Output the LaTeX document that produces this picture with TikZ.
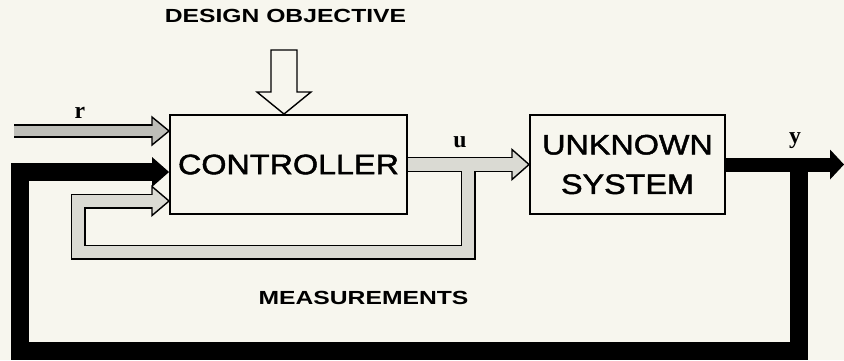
\documentclass[tikz,border=0pt]{standalone}
\usepackage{fontspec}
\newfontfamily\boxfont[FakeStretch=1.15, FakeBold=1.6]{Liberation Sans}
\newfontfamily\tagfont[FakeStretch=1.3]{Liberation Sans Bold}
\newfontfamily\sigfont{Liberation Serif}
\usetikzlibrary{calc}

\definecolor{paper}{RGB}{247,246,238}
\definecolor{refgray}{RGB}{190,190,184}
\definecolor{measgray}{RGB}{218,218,211}

\tikzset{
  block/.style={draw, line width=1.1pt, minimum height=1.98cm, align=center, inner sep=0pt, node font=\fontsize{16}{22.5}\boxfont},
  caption/.style={node font=\fontsize{10.8}{13}\tagfont},
  signal/.style={anchor=base, node font=\fontsize{13.5}{15}\sigfont\bfseries},
  pipeedge/.style={draw=black, line width=0.3cm, line join=miter},
  pipefill/.style={line width=0.3cm-1.6pt, line join=miter},
  fbpipe/.style={draw=black, line width=0.35cm, line join=miter},
}

\begin{document}
\begin{tikzpicture}[x=0.02cm, y=-0.02cm]

    \fill[paper] (0,0) rectangle (844,360);
    \useasboundingbox (0,0) rectangle (844,360);

    \node[block, minimum width=4.74cm] (ctrl) at (288.5,164.5) {CONTROLLER};
    \node[block, minimum width=3.9cm] (plant) at (627.5,164.5) {UNKNOWN\\SYSTEM};

    \node[caption] (goal) at (285.5,16) {DESIGN OBJECTIVE};
    \node[caption] (meas) at (363.5,298) {MEASUREMENTS};

    \node[signal] (rlab) at (80,118) {r};
    \node[signal] (ulab) at (460,147) {u};
    \node[signal] (ylab) at (795,143) {y};

    % design objective (hollow arrow)
    \filldraw[fill=paper, line width=0.8pt] (271,50) -- (297,50) -- (297,92) -- (311,92)
        -- ($(ctrl.north)+(-4.5,0)$) -- (257,92) -- (271,92) -- cycle;

    % output y and feedback
    \coordinate (yhead) at (830,164.5);
    \coordinate (ysplit) at (799,164.5);
    \coordinate (fbright) at (799,351);
    \coordinate (fbleft) at (20,351);
    \coordinate (fbtop) at (20,172);
    \coordinate (fbhead) at (152,172);

    \draw[line width=0.28cm] (plant.east) -- (yhead);
    \fill ($(yhead)+(0,-15)$) -- ($(yhead)+(14,0)$) -- ($(yhead)+(0,15)$) -- cycle;
    \draw[fbpipe] (ysplit) -- (fbright) -- (fbleft) -- (fbtop) -- (fbhead);
    \fill ($(fbhead)+(0,-15)$) -- (ctrl.west |- fbhead) -- ($(fbhead)+(0,15)$) -- cycle;

    % reference r
    \coordinate (rin) at (14,131);
    \coordinate (rhead) at (152,131);
    \draw[pipeedge, line width=0.27cm] (rin) -- (rhead);
    \filldraw[fill=refgray, line width=0.8pt] ($(rhead)+(0,-14)$) -- (ctrl.west |- rhead) -- ($(rhead)+(0,14)$) -- cycle;
    \draw[pipefill, line width=0.27cm-1.6pt, refgray] (rin) -- ($(rhead)+(2,0)$);

    % control u and measurements
    \coordinate (uhead) at (512,164.5);
    \coordinate (usplit) at (468,164.5);
    \coordinate (mdown) at (468,252);
    \coordinate (mleft) at (78,252);
    \coordinate (mup) at (78,201);
    \coordinate (mhead) at (152,201);

    \draw[pipeedge] (ctrl.east) -- (uhead);
    \draw[pipeedge] (usplit) -- (mdown) -- (mleft) -- (mup) -- (mhead);
    \filldraw[fill=measgray, line width=0.8pt] ($(uhead)+(0,-15)$) -- (plant.west) -- ($(uhead)+(0,15)$) -- cycle;
    \filldraw[fill=measgray, line width=0.8pt] ($(mhead)+(0,-14.5)$) -- (ctrl.west |- mhead) -- ($(mhead)+(0,14.5)$) -- cycle;
    \draw[pipefill, measgray] (ctrl.east) -- ($(uhead)+(2,0)$);
    \draw[pipefill, measgray] (usplit) -- (mdown) -- (mleft) -- (mup) -- ($(mhead)+(2,0)$);

\end{tikzpicture}
\end{document}
